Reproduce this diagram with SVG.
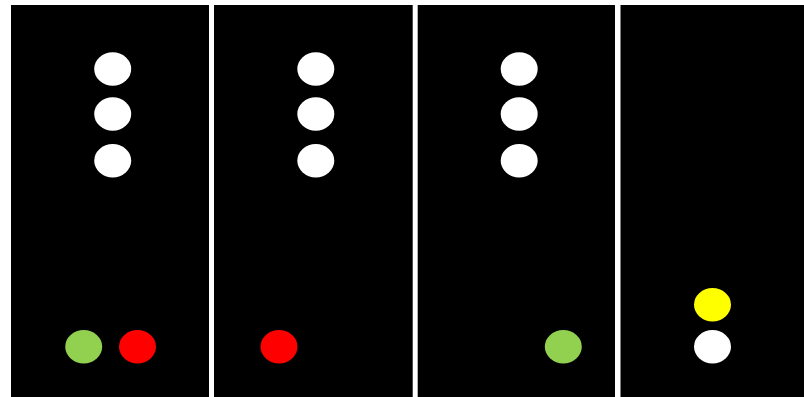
<svg xmlns="http://www.w3.org/2000/svg" width="804" height="397" viewBox="0 0 804 397">
<style>
.panel{fill:#000}
.w{fill:#fff}
.g{fill:#92d050}
.r{fill:#ff0000}
.y{fill:#ffff00}
</style>
<rect width="804" height="397" fill="#fff"/>
<g id="panel1">
<rect class="panel" x="11" y="5" width="198" height="392"/>
<ellipse class="w" cx="112.7" cy="69" rx="18.5" ry="16.7"/>
<ellipse class="w" cx="112.7" cy="114" rx="18.5" ry="16.7"/>
<ellipse class="w" cx="112.7" cy="160.7" rx="18.5" ry="16.7"/>
<ellipse class="g" cx="83.7" cy="346.7" rx="18.5" ry="16.7"/>
<ellipse class="r" cx="137.5" cy="346.7" rx="18.5" ry="16.7"/>
</g>
<g id="panel2">
<rect class="panel" x="214" y="5" width="198.7" height="392"/>
<ellipse class="w" cx="315.8" cy="69" rx="18.5" ry="16.7"/>
<ellipse class="w" cx="315.8" cy="114" rx="18.5" ry="16.7"/>
<ellipse class="w" cx="315.8" cy="160.7" rx="18.5" ry="16.7"/>
<ellipse class="r" cx="279" cy="346.7" rx="18.5" ry="16.7"/>
</g>
<g id="panel3">
<rect class="panel" x="417.7" y="5" width="197.3" height="392"/>
<ellipse class="w" cx="519.2" cy="69" rx="18.5" ry="16.7"/>
<ellipse class="w" cx="519.2" cy="114" rx="18.5" ry="16.7"/>
<ellipse class="w" cx="519.2" cy="160.7" rx="18.5" ry="16.7"/>
<ellipse class="g" cx="563.3" cy="346.7" rx="18.5" ry="16.7"/>
</g>
<g id="panel4">
<rect class="panel" x="620.5" y="5" width="183.5" height="392"/>
<ellipse class="y" cx="712.5" cy="304.7" rx="18.5" ry="16.7"/>
<ellipse class="w" cx="712.5" cy="346.7" rx="18.5" ry="16.7"/>
</g>
<g id="connectors"></g>
</svg>
